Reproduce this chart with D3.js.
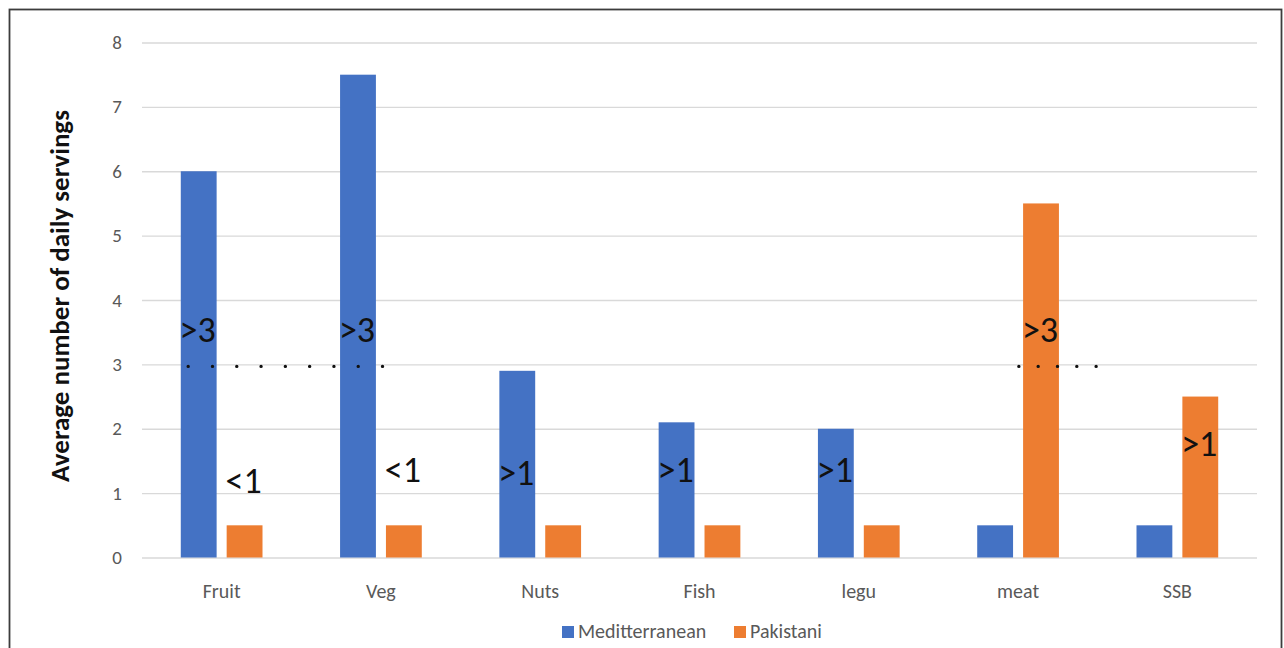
<!DOCTYPE html>
<html>
<head>
<meta charset="utf-8">
<script src="https://cdn.jsdelivr.net/npm/d3@7"></script>
<style>
  html, body { margin: 0; padding: 0; background: #fff; }
  svg { display: block; }
  text { font-family: Carlito, Lato, "Open Sans", sans-serif; }
</style>
</head>
<body>
<svg id="chart" width="1284" height="648"></svg>
<script>
// Daily servings by food group for the two dietary patterns
const categories = ["Fruit", "Veg", "Nuts", "Fish", "legu", "meat", "SSB"];
const seriesNames = ["Meditterranean", "Pakistani"];
const mediterranean = [6, 7.5, 2.9, 2.1, 2.0, 0.5, 0.5];
const pakistani = [0.5, 0.5, 0.5, 0.5, 0.5, 5.5, 2.5];
const yTicks = [0, 1, 2, 3, 4, 5, 6, 7, 8];
const colors = ["#4472C4", "#ED7D31"];

// Hand-written recommendation labels over the bars: category, series, text, height
const notes = [
  { cat: "Fruit", s: 0, text: ">3", v: 3.35 },
  { cat: "Veg",   s: 0, text: ">3", v: 3.35 },
  { cat: "Fruit", s: 1, text: "<1", v: 1.0 },
  { cat: "Veg",   s: 1, text: "<1", v: 1.18 },
  { cat: "Nuts",  s: 0, text: ">1", v: 1.13 },
  { cat: "Fish",  s: 0, text: ">1", v: 1.18 },
  { cat: "legu",  s: 0, text: ">1", v: 1.18 },
  { cat: "meat",  s: 1, text: ">3", v: 3.35 },
  { cat: "SSB",   s: 1, text: ">1", v: 1.58 }
];
// Dotted threshold marks at 3 servings, spanning category positions (in band units)
const dotLines = [
  { from: 0.29, to: 1.51, v: 3, n: 9 },
  { from: 5.505, to: 5.99, v: 3, n: 5 }
];

const svg = d3.select("#chart");

// outer frame
svg.append("rect")
  .attr("x", 9.5).attr("y", 9.5)
  .attr("width", 1272).attr("height", 660)
  .attr("fill", "#fff")
  .attr("stroke", "#3c3c3c").attr("stroke-width", 1.8);

const plot = { left: 142, right: 1257, top: 42.5, bottom: 557.5 };

const x = d3.scaleBand().domain(categories).range([plot.left, plot.right]).paddingInner(0).paddingOuter(0);
const y = d3.scaleLinear().domain([0, 8]).range([plot.bottom, plot.top]);
const bw = x.bandwidth();
const barW = 0.225 * bw;     // bar width
const gap = 0.063 * bw;      // space between the two bars of a group
const groupOffset = (bw - (2 * barW + gap)) / 2;
const barX = (cat, s) => x(cat) + groupOffset + s * (barW + gap);
const unitX = d3.scaleLinear().domain([0, categories.length]).range([plot.left, plot.right]);

// gridlines
const yAxis = d3.axisLeft(y).tickValues(yTicks).tickSize(-(plot.right - plot.left)).tickPadding(20).tickFormat(d3.format("d"));
const gy = svg.append("g").attr("transform", `translate(${plot.left},0)`).call(yAxis);
gy.select(".domain").remove();
gy.selectAll(".tick line").attr("stroke", "#d9d9d9").attr("stroke-width", 1.3);
gy.selectAll(".tick text").attr("fill", "#595959").attr("font-size", 19);

// category axis labels
const xAxis = d3.axisBottom(x).tickSize(0).tickPadding(26);
const gx = svg.append("g").attr("transform", `translate(0,${plot.bottom})`).call(xAxis);
gx.select(".domain").remove();
gx.selectAll(".tick text").attr("fill", "#595959").attr("font-size", 20);

// bars
const seriesData = [mediterranean, pakistani];
seriesData.forEach((vals, s) => {
  svg.append("g").selectAll("rect")
    .data(categories.map((c, i) => ({ c, v: vals[i] })))
    .join("rect")
    .attr("x", d => barX(d.c, s))
    .attr("width", barW)
    .attr("y", d => y(d.v))
    .attr("height", d => y(0) - y(d.v))
    .attr("fill", colors[s]);
});

// dotted threshold marks
dotLines.forEach(dl => {
  const x1 = unitX(dl.from), x2 = unitX(dl.to);
  const step = (x2 - x1) / (dl.n - 1);
  svg.append("line")
    .attr("x1", x1).attr("x2", x2 + 0.5)
    .attr("y1", y(dl.v) + 2).attr("y2", y(dl.v) + 2)
    .attr("stroke", "#111").attr("stroke-width", 3.4)
    .attr("stroke-linecap", "round")
    .attr("stroke-dasharray", `0 ${step}`);
});

// recommendation labels
svg.append("g").selectAll("text")
  .data(notes)
  .join("text")
  .attr("x", d => barX(d.cat, d.s) + barW / 2 - 1)
  .attr("y", d => y(d.v))
  .attr("text-anchor", "middle")
  .attr("font-size", 36)
  .attr("fill", "#111")
  .text(d => d.text);

// y-axis title
svg.append("text")
  .attr("transform", `translate(69,296) rotate(-90)`)
  .attr("text-anchor", "middle")
  .attr("font-size", 27)
  .attr("font-weight", "bold")
  .attr("fill", "#111")
  .text("Average number of daily servings");

// legend
const legend = svg.append("g").attr("transform", "translate(562,626)");
const items = [{ name: seriesNames[0], c: colors[0], dx: 0 }, { name: seriesNames[1], c: colors[1], dx: 172 }];
items.forEach(it => {
  const g = legend.append("g").attr("transform", `translate(${it.dx},0)`);
  g.append("rect").attr("width", 12).attr("height", 12).attr("fill", it.c);
  g.append("text").attr("x", 16).attr("y", 12).attr("font-size", 20).attr("fill", "#595959").text(it.name);
});
</script>
</body>
</html>
